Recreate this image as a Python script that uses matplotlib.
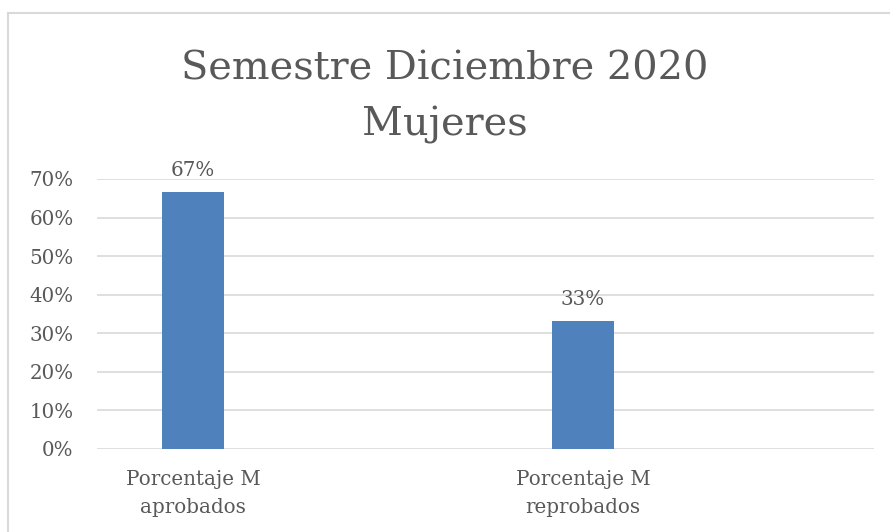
import matplotlib.pyplot as plt
from matplotlib.lines import Line2D
from matplotlib.ticker import FuncFormatter

# datos
categorias = ["Porcentaje M\naprobados", "Porcentaje M\nreprobados"]
valores = [0.667, 0.333]
etiquetas = ["67%", "33%"]
titulo = ["Semestre Diciembre 2020", "Mujeres"]

gris = "#595959"
plt.rcParams["font.family"] = "DejaVu Serif"

fig = plt.figure(figsize=(8.9, 5.32), dpi=100)
ax = fig.add_axes([97 / 890, 1 - 449 / 532, 777 / 890, 270 / 532])

x = [0, 1]
barras = ax.bar(x, valores, width=0.158, color="#4f81bd", zorder=3)
for b, t in zip(barras, etiquetas):
    ax.annotate(t, (b.get_x() + b.get_width() / 2, b.get_height()),
                xytext=(0, 11), textcoords="offset points",
                ha="center", va="baseline", fontsize=14.3, color=gris)

ax.set_xlim(-0.246, 1.746)
ax.set_ylim(0, 0.7)
ax.set_yticks([i / 10 for i in range(8)])
ax.yaxis.set_major_formatter(FuncFormatter(lambda v, p: f"{v * 100:.0f}%"))
ax.set_xticks(x)
ax.set_xticklabels(categorias, fontsize=14.3, color=gris, linespacing=1.62)
ax.tick_params(axis="y", labelsize=14.3, labelcolor=gris, length=0, pad=17)
ax.tick_params(axis="x", length=0, pad=15)
ax.grid(axis="y", color="#d9d9d9", linewidth=1.2, zorder=0)
for s in ax.spines.values():
    s.set_visible(False)

# titulo en dos lineas
fig.text(0.5, 1 - 79 / 532, titulo[0], ha="center", va="baseline",
         fontsize=28.7, color=gris)
fig.text(0.5, 1 - 135 / 532, titulo[1], ha="center", va="baseline",
         fontsize=28.7, color=gris)

# marco del grafico
fig.add_artist(Line2D([8 / 890, 8 / 890], [0, 1 - 13 / 532], color="#d9d9d9", lw=1.5))
fig.add_artist(Line2D([8 / 890, 1], [1 - 13 / 532, 1 - 13 / 532], color="#d9d9d9", lw=1.5))

fig.savefig("out.png", dpi=100)
